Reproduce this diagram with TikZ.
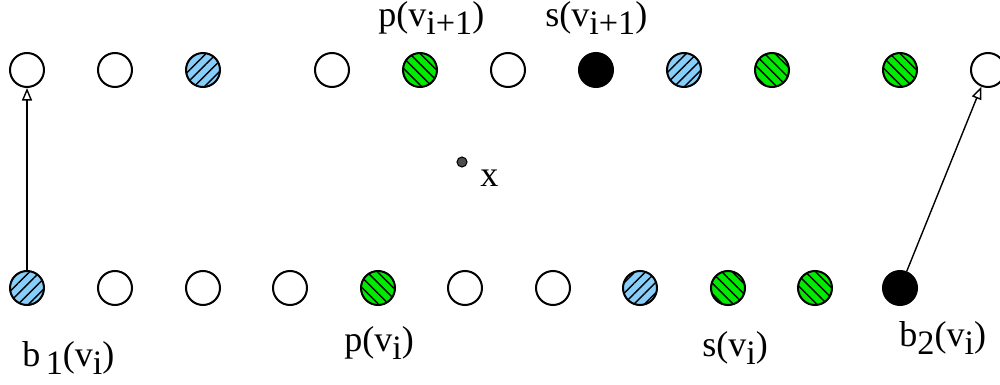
\documentclass[tikz,border=0pt]{standalone}
\usepackage{fontspec}
\setmainfont{Liberation Serif}
\usepackage{tikz}
\usetikzlibrary{arrows.meta,patterns.meta}
\definecolor{hatchblue}{RGB}{135,206,250}
\definecolor{hatchgreen}{RGB}{0,235,0}
\newcommand{\lowsub}[1]{\raisebox{-4.5pt}{\fontsize{19.5}{19.5}\selectfont #1}}
\tikzset{
  flowarrow/.style={-{Triangle[open, length=2.5mm, width=2mm]}, line width=0.8pt},
  vertex/.style={circle, draw, line width=1.15pt, minimum size=6.8mm, inner sep=0pt},
  whitenode/.style={vertex, fill=white},
  blacknode/.style={vertex, fill=black},
  bluenode/.style={vertex, preaction={fill=hatchblue}, pattern={Lines[angle=45, distance=4.2pt, line width=0.8pt]}},
  greennode/.style={vertex, preaction={fill=hatchgreen}, pattern={Lines[angle=-45, distance=4.2pt, line width=0.8pt]}},
  tag/.style={font=\fontsize{20.5}{22}\selectfont, inner sep=0pt, anchor=base west}
}
\begin{document}
\begin{tikzpicture}[x=0.2mm, y=-0.2mm]
  \useasboundingbox (0,0) rectangle (1000,385);
  % upper row
  \foreach \x/\s [count=\i] in {27/whitenode, 115/whitenode, 203/bluenode, 332/whitenode, 420/greennode, 508/whitenode, 596/blacknode, 684/bluenode, 772/greennode, 900/greennode, 988/whitenode}
    \node[\s] (t\i) at (\x,70) {};
  % lower row
  \foreach \x/\s [count=\i] in {27/bluenode, 115/whitenode, 203/whitenode, 290/whitenode, 378/greennode, 465/whitenode, 553/whitenode, 640/bluenode, 728/greennode, 815/greennode, 900/blacknode}
    \node[\s] (b\i) at (\x,288) {};
  % the point x
  \node[circle, draw, fill=black!70, line width=0.6pt, minimum size=2mm, inner sep=0pt] (px) at (462,162) {};
  \node[tag] (xlab) at (480,187) {x};

  \draw[flowarrow] (b1) -- (t1);
  \draw[flowarrow] (b11) -- (t11);

  \node[tag] (pnext) at (378,27) {p(v\lowsub{i+1})};
  \node[tag] (snext) at (545,27) {s(v\lowsub{i+1})};
  \node[tag] (bone) at (22,367) {b\hspace{0.15em}\lowsub{1}(v\lowsub{i})};
  \node[tag] (pcur) at (344,352) {p(v\lowsub{i})};
  \node[tag] (scur) at (702,357) {s(v\lowsub{i})};
  \node[tag] (btwo) at (899,347) {b\lowsub{2}(v\lowsub{i})};
\end{tikzpicture}
\end{document}
